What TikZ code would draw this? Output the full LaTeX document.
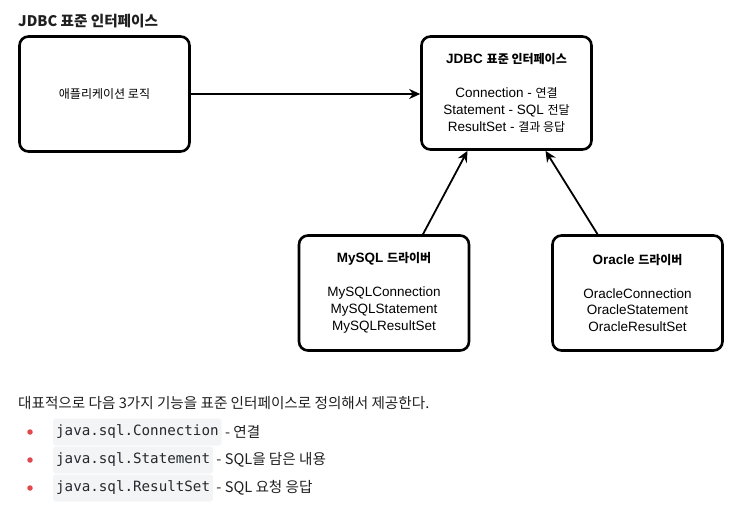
\documentclass[tikz,border=0pt]{standalone}
\usepackage{fontspec}
\setmainfont{Liberation Sans}
\setmonofont{DejaVu Sans Mono}
\newfontfamily\kr{Noto Sans CJK KR}[Scale=0.89]
\newfontfamily\krn{Noto Sans CJK KR}
\usetikzlibrary{arrows.meta}
\newcommand\K[1]{{\kr #1}}
\definecolor{txt}{HTML}{1F1F1F}
\definecolor{bul}{HTML}{E0484E}
\definecolor{codebg}{HTML}{F3F4F5}
\definecolor{codetxt}{HTML}{24292E}
\tikzset{
  box/.style={draw=black, line width=2.6pt, rounded corners=9pt, align=center,
    minimum width=170pt, minimum height=115pt, inner sep=0pt,
    font=\fontsize{13.5}{16.8}\selectfont},
  conn/.style={draw=black, line width=1.8pt, -{Stealth[length=11pt,width=10pt,inset=3.5pt]}},
  code/.style={fill=codebg, rounded corners=3pt, inner xsep=3pt, inner ysep=0pt,
    minimum height=27pt, font=\ttfamily\fontsize{14.2}{16}\selectfont, text=codetxt, anchor=west},
  after/.style={anchor=west, inner sep=0pt, font=\krn\fontsize{14.6}{16}\selectfont, text=txt},
  dot/.style={circle, fill=bul, inner sep=0pt, minimum size=5.5pt}
}
\begin{document}
\begin{tikzpicture}[x=1pt,y=1pt]
\useasboundingbox (0,0) rectangle (751,-514);
\node[anchor=west, inner sep=0pt, font=\krn\bfseries\fontsize{14.6}{16}\selectfont, text=txt] (title) at (18,-21) {JDBC 표준 인터페이스};

\node[box] (A) at (104.5,-94) {\K{애플리케이션 로직}};
\node[box, minimum height=113pt] (B) at (506.5,-93) {\textbf{JDBC \K{표준 인터페이스}}\\[17pt]Connection - \K{연결}\\Statement - SQL \K{전달}\\ResultSet - \K{결과 응답}};
\node[box] (C) at (384,-293) {\textbf{MySQL \K{드라이버}}\\[17pt]MySQLConnection\\MySQLStatement\\MySQLResultSet};
\node[box] (D) at (637.5,-293) {\textbf{Oracle \K{드라이버}}\\[17pt]OracleConnection\\OracleStatement\\OracleResultSet};

\draw[conn] (A.east) -- (A.east -| B.west);
\draw[conn] ([xshift=39pt]C.north) -- ([xshift=-39pt]B.south);
\draw[conn] ([xshift=-40pt]D.north) -- ([xshift=39pt]B.south);

\node[anchor=west, inner sep=0pt, font=\krn\fontsize{14.6}{16}\selectfont, text=txt] (intro) at (18,-403) {대표적으로 다음 3가지 기능을 표준 인터페이스로 정의해서 제공한다.};

\node[dot] (d1) at (30,-432) {};
\node[code] (c1) at (53,-432) {java.sql.Connection};
\node[after] (t1) at ([xshift=3pt]c1.east) {- 연결};
\node[dot] (d2) at (30,-460) {};
\node[code] (c2) at (53,-460) {java.sql.Statement};
\node[after] (t2) at ([xshift=3pt]c2.east) {- SQL을 담은 내용};
\node[dot] (d3) at (30,-488) {};
\node[code] (c3) at (53,-488) {java.sql.ResultSet};
\node[after] (t3) at ([xshift=3pt]c3.east) {- SQL 요청 응답};
\end{tikzpicture}
\end{document}
